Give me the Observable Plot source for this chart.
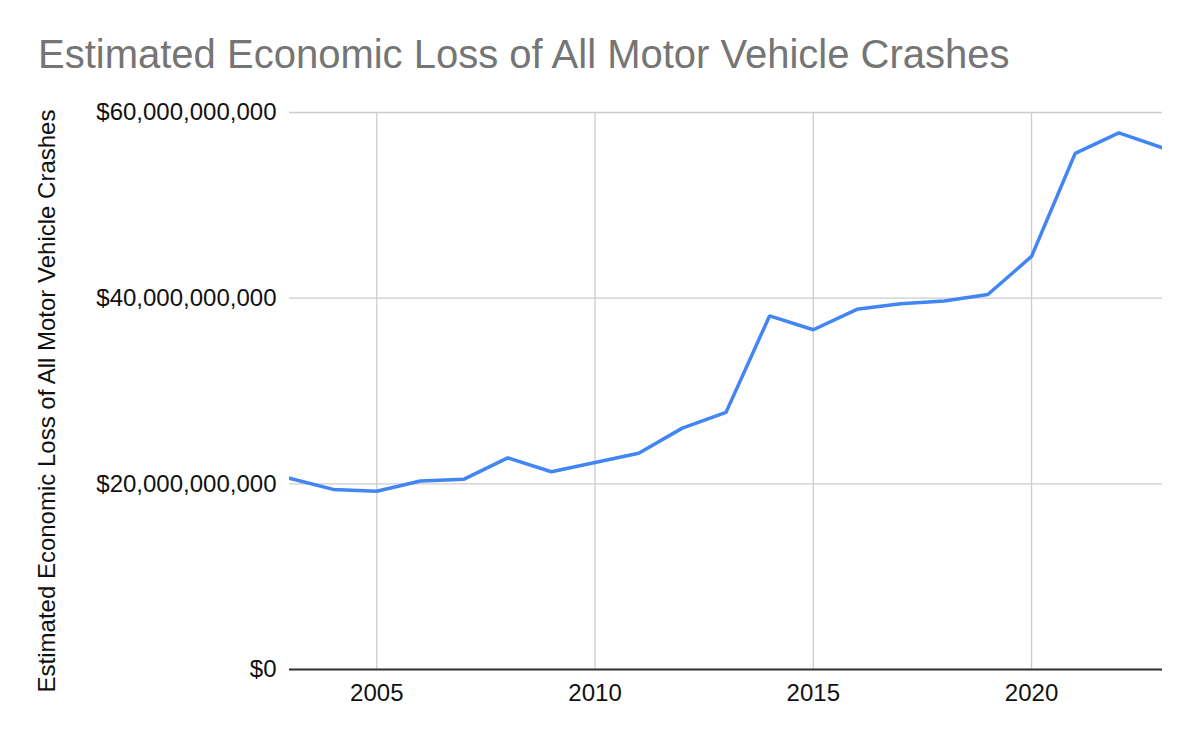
<!DOCTYPE html>
<html>
<head>
<meta charset="utf-8">
<script src="https://cdn.jsdelivr.net/npm/d3@7"></script>
<script src="https://cdn.jsdelivr.net/npm/@observablehq/plot@0.6"></script>
<style>
  html, body { margin: 0; padding: 0; background: #fff; }
  #title {
    height: 80px; box-sizing: border-box; padding-top: 34px; padding-left: 38px;
    font-family: "Liberation Sans", Arial, sans-serif; font-size: 40px; line-height: 40px;
    color: #757575; white-space: nowrap; overflow: visible;
  }
  #chart svg { display: block; }
</style>
</head>
<body>
<div id="title">Estimated Economic Loss of All Motor Vehicle Crashes</div>
<div id="chart"></div>
<script>
const years = [2003, 2004, 2005, 2006, 2007, 2008, 2009, 2010, 2011, 2012, 2013,
               2014, 2015, 2016, 2017, 2018, 2019, 2020, 2021, 2022, 2023];
// Estimated economic loss, billions of US dollars
const lossBillions = [20.6, 19.4, 19.2, 20.3, 20.5, 22.8, 21.3, 22.3, 23.3, 26.0, 27.7,
                      38.1, 36.6, 38.8, 39.4, 39.7, 40.4, 44.5, 55.6, 57.8, 56.2];
const xTicks = [2005, 2010, 2015, 2020];
const yTicks = [0, 20e9, 40e9, 60e9];
const yLabel = "Estimated Economic Loss of All Motor Vehicle Crashes";

const data = years.map((y, i) => ({year: y, loss: lossBillions[i] * 1e9}));
const fmt = d => "$" + d3.format(",")(d);
const font = '"Liberation Sans", Arial, sans-serif';

const chart = Plot.plot({
  width: 1200,
  height: 662,
  marginTop: 32,
  marginBottom: 73,
  marginLeft: 289,
  marginRight: 38,
  style: {fontFamily: font, fontSize: "24px", color: "#222", background: "#fff"},
  x: {domain: [2003, 2023]},
  y: {domain: [0, 60e9]},
  marks: [
    Plot.gridY(yTicks, {stroke: "#cccccc", strokeOpacity: 1, strokeWidth: 1.3}),
    Plot.gridX(xTicks, {stroke: "#cccccc", strokeOpacity: 1, strokeWidth: 1.3}),
    Plot.axisY(yTicks, {tickSize: 0, tickPadding: 13, tickFormat: fmt, label: null, fill: "#111", fontSize: 24}),
    Plot.axisX(xTicks, {tickSize: 0, tickPadding: 14, tickFormat: d => String(d), label: null, fill: "#111", fontSize: 24}),
    Plot.text([yLabel], {frameAnchor: "left", textAnchor: "middle", lineAnchor: "middle", rotate: -90, dx: -242, dy: 10, text: d => d, fontSize: 24, fill: "#111"}),
    Plot.lineY(data, {x: "year", y: "loss", stroke: "#4285F4", strokeWidth: 3.5, strokeLinejoin: "miter", clip: true}),
    Plot.ruleY([0], {stroke: "#333333", strokeWidth: 2.2})
  ]
});
document.getElementById("chart").appendChild(chart);
</script>
</body>
</html>
